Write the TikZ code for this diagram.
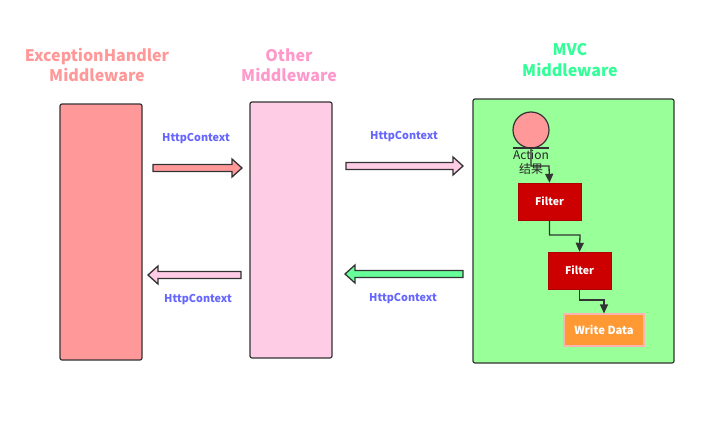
\documentclass[tikz,border=0pt]{standalone}
\usepackage{fontspec}
\setmainfont{Noto Sans CJK SC}
\usetikzlibrary{arrows.meta}
\definecolor{exc}{HTML}{FF9999}
\definecolor{oth}{HTML}{FFCCE6}
\definecolor{othT}{HTML}{FF99CC}
\definecolor{mvc}{HTML}{99FF99}
\definecolor{mvcT}{HTML}{33FF99}
\definecolor{grn}{HTML}{66FF99}
\definecolor{lbl}{HTML}{6666FF}
\definecolor{filt}{HTML}{CC0000}
\definecolor{wd}{HTML}{FF9933}
\definecolor{wdb}{HTML}{FFB3B3}
\definecolor{edge}{HTML}{333333}
\tikzset{
  col/.style={draw=edge, line width=1.2pt, rounded corners=2pt},
  ttl/.style={font=\fontsize{16}{20.5}\selectfont\bfseries, align=center},
  hc/.style={font=\fontsize{10.8}{12}\selectfont\bfseries, text=lbl},
  filterbox/.style={fill=filt, draw=filt!85!black, minimum width=63pt, minimum height=37pt, inner sep=0pt, text=white, font=\fontsize{10.5}{12}\selectfont\bfseries},
  blk/.style={draw=edge, line width=1.3pt, line join=miter},
  conn/.style={draw=edge, line width=1.3pt, -{Triangle[length=9pt,width=8pt]}, rounded corners=0pt}
}
\newcommand{\rarrow}[4]{% x1 x2 y fill
  \draw[blk, fill=#4] (#1,#3-3.5) -- (#2-10,#3-3.5) -- (#2-10,#3-9) -- (#2,#3) -- (#2-10,#3+9) -- (#2-10,#3+3.5) -- (#1,#3+3.5) -- cycle;}
\newcommand{\larrow}[4]{% x1(left tip) x2 y fill
  \draw[blk, fill=#4] (#2,#3-3.5) -- (#1+10,#3-3.5) -- (#1+10,#3-9) -- (#1,#3) -- (#1+10,#3+9) -- (#1+10,#3+3.5) -- (#2,#3+3.5) -- cycle;}
\begin{document}
\begin{tikzpicture}[x=1pt,y=-1pt]
\useasboundingbox[fill=white] (0,0) rectangle (720,439);
% columns
\draw[col, fill=exc] (60,104) rectangle (142,360);
\draw[col, fill=oth] (250,102) rectangle (332,358);
\draw[col, fill=mvc] (473,99) rectangle (674,363);
% titles
\node[ttl, text=exc] (t1) at (97,65) {ExceptionHandler\\Middleware};
\node[ttl, text=othT] (t2) at (289,65) {Other\\Middleware};
\node[ttl, text=mvcT] (t3) at (570,60) {MVC\\Middleware};
% block arrows
\rarrow{153}{242}{168}{exc}
\rarrow{346}{463}{166}{oth}
\larrow{148}{241}{275}{oth}
\larrow{345}{463}{274}{grn}
% labels
\node[hc] (h1) at (196,139) {HttpContext};
\node[hc] (h2) at (404,137) {HttpContext};
\node[hc] (h3) at (198,300) {HttpContext};
\node[hc] (h4) at (403,299) {HttpContext};
% MVC internals
\node[circle, draw=edge, line width=1.2pt, fill=exc, minimum size=36pt, inner sep=0pt] (act) at (531,130) {};
\coordinate (ab) at (531,148);
\draw[edge, line width=1.2pt] (513,148) -- (549,148);
\node[font=\fontsize{12}{14}\selectfont, text=black!85, align=center] (actt) at (531,162) {Action\\结果};
\node[filterbox] (f1) at (549.5,201.5) {Filter};
\node[filterbox] (f2) at (579.5,270.5) {Filter};
\node[fill=wd, draw=wdb, line width=1.2pt, minimum width=80pt, minimum height=32pt, inner sep=0pt, text=white, font=\fontsize{11.2}{12}\selectfont\bfseries] (w) at (604,330) {Write Data};
\draw[conn] (ab) |- (549,166) -- (f1.north);
\draw[conn] (f1.south) |- (580,235) -- (f2.north);
\draw[conn] (f2.south) |- (604,300) -- (w.north);
\end{tikzpicture}
\end{document}
